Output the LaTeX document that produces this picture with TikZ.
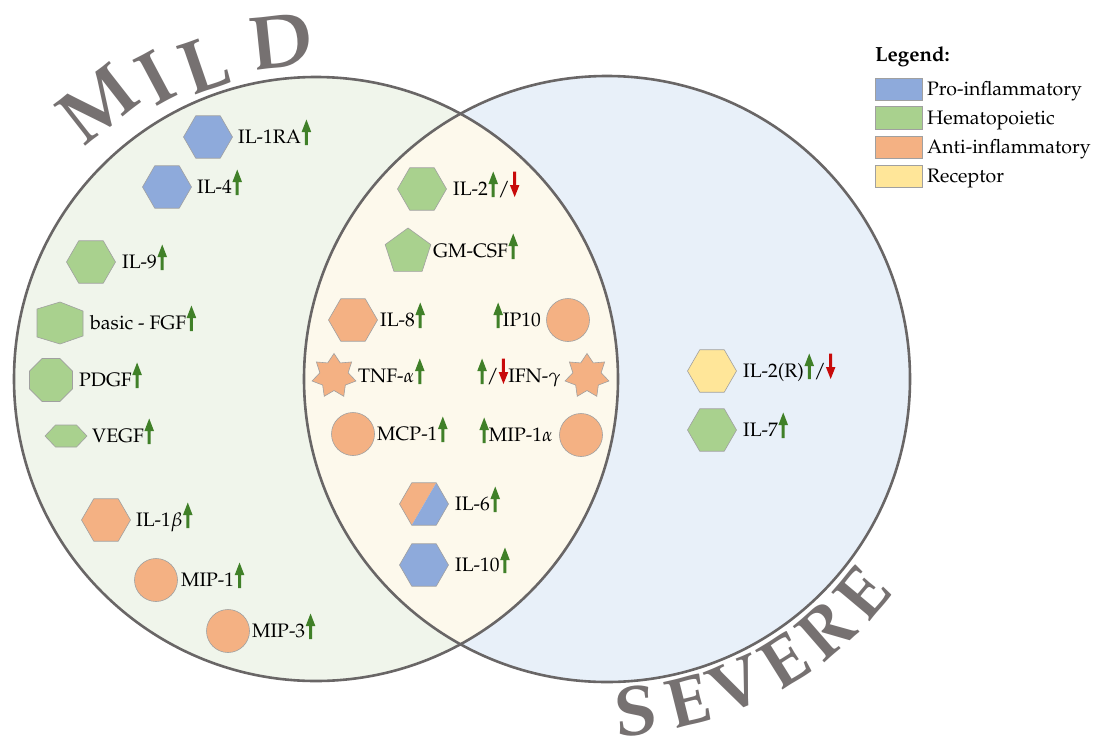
\documentclass[tikz,border=0pt]{standalone}
\usepackage[T1]{fontenc}
\usepackage{mathpazo}
\usetikzlibrary{shapes.geometric}
\definecolor{cblue}{RGB}{142,170,219}
\definecolor{cgreen}{RGB}{169,209,142}
\definecolor{corange}{RGB}{244,177,131}
\definecolor{cyellow}{RGB}{255,230,153}
\definecolor{leftfill}{RGB}{240,245,235}
\definecolor{rightfill}{RGB}{232,240,249}
\definecolor{lensfill}{RGB}{253,249,236}
\definecolor{ringgray}{RGB}{105,102,102}
\definecolor{titlegray}{RGB}{118,113,113}
\definecolor{shapeline}{RGB}{160,160,160}
\definecolor{upgreen}{RGB}{64,128,40}
\definecolor{downred}{RGB}{200,10,10}
\newcommand\uarr{\hspace{0.5pt}\tikz[baseline=0pt,x=1pt,y=1pt]\fill[upgreen] (-1.5,-2)--(1.5,-2)--(1.5,11)--(4.8,11)--(0,23.5)--(-4.8,11)--(-1.5,11)--cycle;}
\newcommand\darr{\tikz[baseline=0pt,x=1pt,y=1pt]\fill[downred] (-1.5,23.5)--(1.5,23.5)--(1.5,10)--(4.8,10)--(0,-2)--(-4.8,10)--(-1.5,10)--cycle;}
\begin{document}
\begin{tikzpicture}[x=1pt,y=-1pt,
  lab/.style={anchor=base west, inner sep=0pt, font=\fontsize{19.5}{21}\selectfont},
  labe/.style={anchor=base east, inner sep=0pt, font=\fontsize{19.5}{21}\selectfont},
  shp/.style={draw=shapeline, line width=0.6pt, inner sep=0pt, outer sep=0pt},
  hexa/.style={shp, regular polygon, regular polygon sides=6, minimum size=49pt},
  pent/.style={shp, regular polygon, regular polygon sides=5, minimum size=48pt},
  octa/.style={shp, regular polygon, regular polygon sides=8, minimum size=46.5pt},
  circ/.style={shp, circle, minimum size=43pt},
  starshp/.style={shp, star, star points=7, star point ratio=1.55, minimum size=45pt},
  ring/.style={draw=ringgray, line width=2.6pt},
  bigm/.style={text=titlegray, inner sep=0pt, font=\fontsize{76}{80}\selectfont\bfseries},
  bigs/.style={text=titlegray, inner sep=0pt, font=\fontsize{70}{74}\selectfont\bfseries},
  key/.style={shp, minimum width=47pt, minimum height=22.5pt, draw=shapeline},
  keylab/.style={anchor=base west, inner sep=0pt, font=\fontsize{19.5}{21}\selectfont}
]
\useasboundingbox (0,0) rectangle (1097,755);
\fill[white] (0,0) rectangle (1097,755);

% Venn circles
\fill[leftfill] (316,379) circle (302);
\fill[rightfill] (607,379) circle (303);
\begin{scope}
  \clip (316,379) circle (302);
  \fill[lensfill] (607,379) circle (303);
\end{scope}
\draw[ring] (316,379) circle (302);
\draw[ring] (607,379) circle (303);

% MILD
\node[bigm, rotate=38] (m1) at (98,104) {M};
\node[bigm, rotate=28] (m2) at (156,78) {I};
\node[bigm, rotate=19] (m3) at (204,65) {L};
\node[bigm, rotate=6] (m4) at (281,42) {D};

% SEVERE
\node[bigs, rotate=5] (s1) at (636,711) {S};
\node[bigs, rotate=14] (s2) at (688,702) {E};
\node[bigs, rotate=23] (s3) at (737,686) {V};
\node[bigs, rotate=32] (s4) at (784,662) {E};
\node[bigs, rotate=41] (s5) at (826,631) {R};
\node[bigs, rotate=50] (s6) at (863,594) {E};

% Mild only
\node[hexa, fill=cblue] (h1ra) at (208,137) {};
\node[lab] (t1ra) at (238,143) {IL-1RA\uarr};
\node[hexa, fill=cblue] (h4) at (167,187) {};
\node[lab] (t4) at (197,193) {IL-4\uarr};
\node[hexa, fill=cgreen] (h9) at (91,262) {};
\node[lab] (t9) at (122,268) {IL-9\uarr};
\draw[shp, fill=cgreen] (60,302)--(83,311)--(83,336)--(60,344)--(37,337)--(37,309)--cycle;
\node[lab] (tfgf) at (90,329) {basic - FGF\uarr};
\node[octa, fill=cgreen] (hpdgf) at (51,380) {};
\node[lab] (tpdgf) at (79,386) {PDGF\uarr};
\draw[shp, fill=cgreen] (45,436)--(55.5,425)--(76.5,425)--(87,436)--(76.5,447)--(55.5,447)--cycle;
\node[lab] (tvegf) at (92,442) {VEGF\uarr};
\node[hexa, fill=corange] (h1b) at (106,520) {};
\node[lab] (t1b) at (136,526) {IL-1$\beta$\uarr};
\node[circ, fill=corange] (cmip1) at (156,580) {};
\node[lab] (tmip1) at (181,586) {MIP-1\uarr};
\node[circ, fill=corange] (cmip3) at (228,631) {};
\node[lab] (tmip3) at (252,637) {MIP-3\uarr};

% Overlap
\node[hexa, fill=cgreen] (h2) at (422,189) {};
\node[lab] (t2) at (453,195) {IL-2\uarr/\darr};
\node[pent, fill=cgreen] (pgm) at (408,252) {};
\node[lab] (tgm) at (433,257) {GM-CSF\uarr};
\node[hexa, fill=corange] (h8) at (353,320) {};
\node[lab] (t8) at (380,326) {IL-8\uarr};
\node[circ, fill=corange] (cip) at (568,320) {};
\node[labe] (tip) at (541,326) {\uarr IP10};
\node[starshp, fill=corange] (stnf) at (334,376) {};
\node[lab] (ttnf) at (358,382) {TNF-$\alpha$\uarr};
\node[starshp, fill=corange] (sifn) at (587,376) {};
\node[labe] (tifn) at (561,382) {\uarr/\darr IFN-$\gamma$};
\node[circ, fill=corange] (cmcp) at (353,434) {};
\node[lab] (tmcp) at (377,440) {MCP-1\uarr};
\node[circ, fill=corange] (cmip1a) at (581,435) {};
\node[labe] (tmip1a) at (553,441) {\uarr MIP-1$\alpha$};
\begin{scope}[shift={(424,504)}]
  \fill[corange] (12.25,-21.2)--(-12.25,-21.2)--(-24.5,0)--(-12.25,21.2)--cycle;
  \fill[cblue] (-12.25,21.2)--(12.25,21.2)--(24.5,0)--(12.25,-21.2)--cycle;
\end{scope}
\node[hexa] (h6) at (424,504) {};
\node[lab] (t6) at (455,510) {IL-6\uarr};
\node[hexa, fill=cblue] (h10) at (424,565) {};
\node[lab] (t10) at (455,571) {IL-10\uarr};

% Severe only
\node[hexa, fill=cyellow] (h2r) at (712,371) {};
\node[lab] (t2r) at (743,377) {IL-2(R)\uarr/\darr};
\node[hexa, fill=cgreen] (h7) at (712,430) {};
\node[lab] (t7) at (743,436) {IL-7\uarr};

% Legend
\node[anchor=base west, inner sep=0pt, font=\fontsize{20.5}{22}\selectfont\bfseries] (leg) at (875,61) {Legend:};
\node[key, fill=cblue, anchor=north west] (k1) at (875,78) {};
\node[keylab] (kl1) at (927,95) {Pro-inflammatory};
\node[key, fill=cgreen, anchor=north west] (k2) at (875,106.5) {};
\node[keylab] (kl2) at (927,124) {Hematopoietic};
\node[key, fill=corange, anchor=north west] (k3) at (875,136) {};
\node[keylab] (kl3) at (927,153) {Anti-inflammatory};
\node[key, fill=cyellow, anchor=north west] (k4) at (875,165) {};
\node[keylab] (kl4) at (927,182) {Receptor};
\end{tikzpicture}
\end{document}
